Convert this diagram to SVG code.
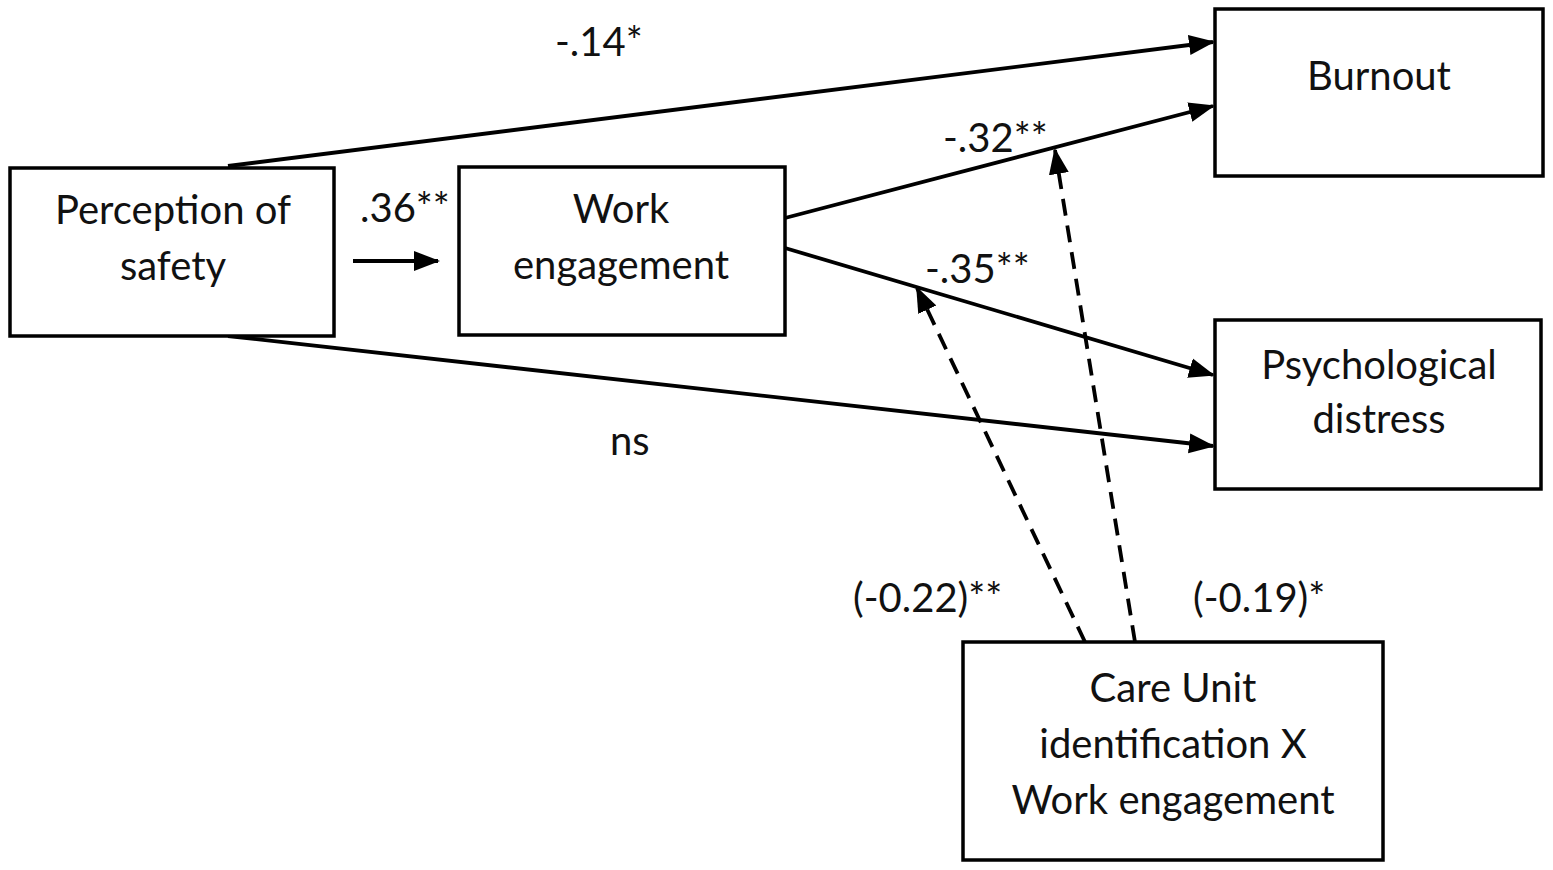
<svg xmlns="http://www.w3.org/2000/svg" width="1553" height="870" viewBox="0 0 1553 870">
<style>
.box{fill:#fff;stroke:#000;stroke-width:3.5}
.t{font-family:Lato,"Open Sans","Liberation Sans",sans-serif;font-size:40px;fill:#111;text-anchor:middle}
.lbl{font-family:Lato,"Open Sans","Liberation Sans",sans-serif;font-size:40px;fill:#111}
.e{stroke:#000;stroke-width:3.8;fill:none}
.d{stroke:#000;stroke-width:3.8;fill:none;stroke-dasharray:17 10}
</style>
<defs>
<marker id="ah" markerUnits="userSpaceOnUse" markerWidth="26" markerHeight="22" refX="24" refY="10" orient="auto" viewBox="0 0 26 20">
<path d="M0,0 L26,10 L0,20 Z" fill="#000"/>
</marker>
</defs>
<g id="connectors">
<line class="e" x1="228" y1="166" x2="1213" y2="42" marker-end="url(#ah)"/>
<line class="e" x1="228" y1="336" x2="1213" y2="446" marker-end="url(#ah)"/>
<line class="e" x1="785" y1="218" x2="1213" y2="106" marker-end="url(#ah)"/>
<line class="e" x1="785" y1="248" x2="1213" y2="375" marker-end="url(#ah)"/>
<line class="e" x1="353" y1="261" x2="438" y2="261" marker-end="url(#ah)"/>
<line class="d" x1="1085" y1="642" x2="917" y2="288" marker-end="url(#ah)"/>
<line class="d" x1="1135" y1="642" x2="1055" y2="150" marker-end="url(#ah)"/>
</g>
<g id="labels">
<text class="lbl" x="555" y="56">-.14*</text>
<text class="lbl" x="360" y="222">.36**</text>
<text class="lbl" x="943" y="152">-.32**</text>
<text class="lbl" x="925" y="283">-.35**</text>
<text class="lbl" x="610" y="455">ns</text>
<text class="lbl" x="853" y="612">(-0.22)**</text>
<text class="lbl" x="1193" y="612">(-0.19)*</text>
</g>
<g id="perception">
<rect class="box" x="10" y="168" width="324" height="168"/>
<text class="t" x="173" y="224">Perception of</text>
<text class="t" x="173" y="280">safety</text>
</g>
<g id="work-engagement">
<rect class="box" x="459" y="167" width="326" height="168"/>
<text class="t" x="621" y="223">Work</text>
<text class="t" x="621" y="279">engagement</text>
</g>
<g id="burnout">
<rect class="box" x="1215" y="9" width="328" height="167"/>
<text class="t" x="1379" y="90">Burnout</text>
</g>
<g id="distress">
<rect class="box" x="1215" y="320" width="326" height="169"/>
<text class="t" x="1379" y="379">Psychological</text>
<text class="t" x="1379" y="433">distress</text>
</g>
<g id="care-unit">
<rect class="box" x="963" y="642" width="420" height="218"/>
<text class="t" x="1173" y="702">Care Unit</text>
<text class="t" x="1173" y="758">identification X</text>
<text class="t" x="1173" y="814">Work engagement</text>
</g>
</svg>
